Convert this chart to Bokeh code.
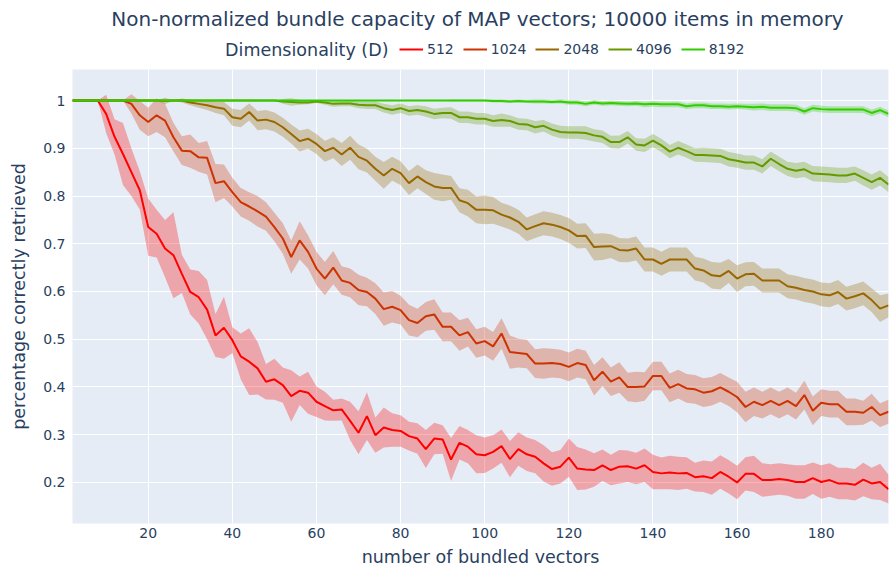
import numpy as np
from bokeh.plotting import figure
from bokeh.layouts import column
from bokeh.models import (ColumnDataSource, Range1d, FixedTicker, CustomJSTickFormatter,
                          Legend, LegendItem, Label)
from bokeh.embed import file_html
from bokeh.resources import INLINE

# ---------------- data ----------------
x_vals = list(range(2, 197, 2))  # number of bundled vectors (98 points)

dims = ["512", "1024", "2048", "4096", "8192"]
colors = ["#ff0000", "#cc3300", "#996600", "#669900", "#33cc00"]

mean_512 = [
    1, 1, 1, 1, 0.972, 0.924, 0.888, 0.850, 0.812, 0.735,
    0.721, 0.690, 0.676, 0.637, 0.599, 0.588, 0.562, 0.508, 0.524, 0.498,
    0.464, 0.453, 0.439, 0.411, 0.416, 0.404, 0.381, 0.392, 0.388, 0.369,
    0.360, 0.351, 0.353, 0.329, 0.304, 0.339, 0.299, 0.315, 0.310, 0.308,
    0.297, 0.292, 0.270, 0.292, 0.290, 0.248, 0.283, 0.275, 0.259, 0.257,
    0.264, 0.276, 0.249, 0.270, 0.259, 0.254, 0.240, 0.228, 0.233, 0.252,
    0.229, 0.227, 0.226, 0.236, 0.226, 0.233, 0.234, 0.229, 0.236, 0.222,
    0.219, 0.221, 0.219, 0.220, 0.211, 0.213, 0.209, 0.222, 0.212, 0.200,
    0.218, 0.218, 0.205, 0.205, 0.207, 0.205, 0.201, 0.201, 0.209, 0.201,
    0.205, 0.198, 0.198, 0.195, 0.206, 0.198, 0.201, 0.186,
]
hw_512 = [
    0, 0, 0, 0, 0.040, 0.037, 0.065, 0.050, 0.040, 0.060,
    0.050, 0.060, 0.090, 0.040, 0.047, 0.055, 0.062, 0.045, 0.065, 0.027,
    0.048, 0.070, 0.055, 0.037, 0.043, 0.037, 0.054, 0.030, 0.044, 0.032,
    0.030, 0.022, 0.023, 0.040, 0.045, 0.050, 0.037, 0.042, 0.035, 0.033,
    0.030, 0.032, 0.040, 0.033, 0.030, 0.045, 0.035, 0.035, 0.040, 0.037,
    0.035, 0.035, 0.038, 0.035, 0.035, 0.035, 0.038, 0.035, 0.035, 0.040,
    0.045, 0.042, 0.035, 0.033, 0.032, 0.035, 0.033, 0.033, 0.035, 0.036,
    0.033, 0.035, 0.035, 0.033, 0.030, 0.033, 0.035, 0.035, 0.035, 0.035,
    0.035, 0.038, 0.035, 0.033, 0.033, 0.033, 0.035, 0.035, 0.033, 0.035,
    0.035, 0.033, 0.033, 0.033, 0.035, 0.033, 0.038, 0.030,
]

mean_1024 = [
    1, 1, 1, 1, 1, 1, 1, 0.993, 0.969, 0.955,
    0.969, 0.958, 0.923, 0.895, 0.894, 0.881, 0.880, 0.827, 0.831, 0.808,
    0.787, 0.778, 0.768, 0.757, 0.735, 0.711, 0.672, 0.707, 0.683, 0.648,
    0.627, 0.650, 0.623, 0.618, 0.603, 0.599, 0.585, 0.563, 0.568, 0.561,
    0.540, 0.534, 0.548, 0.552, 0.526, 0.526, 0.508, 0.515, 0.491, 0.496,
    0.485, 0.512, 0.473, 0.471, 0.469, 0.449, 0.449, 0.450, 0.448, 0.442,
    0.450, 0.446, 0.414, 0.432, 0.411, 0.420, 0.400, 0.400, 0.401, 0.423,
    0.423, 0.398, 0.406, 0.397, 0.395, 0.388, 0.391, 0.399, 0.390, 0.379,
    0.358, 0.369, 0.362, 0.371, 0.362, 0.371, 0.360, 0.383, 0.350, 0.367,
    0.364, 0.364, 0.348, 0.348, 0.346, 0.358, 0.341, 0.348,
]
hw_1024 = [
    0, 0, 0, 0, 0, 0, 0, 0.020, 0.030, 0.030,
    0.035, 0.035, 0.030, 0.030, 0.035, 0.030, 0.035, 0.040, 0.035, 0.030,
    0.030, 0.030, 0.032, 0.030, 0.030, 0.032, 0.035, 0.040, 0.035, 0.035,
    0.035, 0.035, 0.030, 0.030, 0.032, 0.030, 0.032, 0.035, 0.033, 0.030,
    0.032, 0.030, 0.030, 0.032, 0.030, 0.030, 0.032, 0.030, 0.030, 0.030,
    0.030, 0.032, 0.035, 0.030, 0.030, 0.030, 0.032, 0.030, 0.030, 0.030,
    0.030, 0.030, 0.032, 0.030, 0.030, 0.032, 0.030, 0.032, 0.030, 0.030,
    0.030, 0.030, 0.030, 0.030, 0.030, 0.030, 0.030, 0.030, 0.030, 0.032,
    0.032, 0.030, 0.028, 0.028, 0.028, 0.028, 0.028, 0.030, 0.030, 0.028,
    0.028, 0.028, 0.028, 0.028, 0.025, 0.028, 0.025, 0.025,
]

mean_2048 = [
    1, 1, 1, 1, 1, 1, 1, 1, 1, 1,
    1, 0.999, 1, 1, 0.996, 0.993, 0.990, 0.986, 0.983, 0.965,
    0.962, 0.976, 0.958, 0.960, 0.955, 0.944, 0.930, 0.915, 0.920, 0.909,
    0.894, 0.901, 0.887, 0.901, 0.882, 0.874, 0.857, 0.843, 0.857, 0.848,
    0.827, 0.841, 0.829, 0.820, 0.817, 0.817, 0.791, 0.785, 0.771, 0.771,
    0.770, 0.761, 0.755, 0.746, 0.730, 0.737, 0.743, 0.740, 0.735, 0.728,
    0.716, 0.717, 0.693, 0.694, 0.695, 0.687, 0.686, 0.690, 0.667, 0.667,
    0.658, 0.667, 0.667, 0.667, 0.648, 0.644, 0.634, 0.632, 0.643, 0.627,
    0.636, 0.637, 0.623, 0.623, 0.623, 0.611, 0.608, 0.603, 0.600, 0.594,
    0.592, 0.599, 0.585, 0.590, 0.596, 0.582, 0.564, 0.571,
]
hw_2048 = [
    0, 0, 0, 0, 0, 0, 0, 0, 0, 0,
    0, 0.007, 0, 0.004, 0.006, 0.008, 0.010, 0.012, 0.014, 0.018,
    0.018, 0.018, 0.020, 0.020, 0.020, 0.020, 0.020, 0.022, 0.021, 0.021,
    0.022, 0.022, 0.024, 0.025, 0.026, 0.025, 0.025, 0.028, 0.025, 0.025,
    0.025, 0.025, 0.025, 0.028, 0.028, 0.025, 0.025, 0.028, 0.028, 0.030,
    0.028, 0.025, 0.025, 0.025, 0.025, 0.025, 0.025, 0.025, 0.025, 0.026,
    0.026, 0.026, 0.028, 0.028, 0.025, 0.025, 0.025, 0.025, 0.025, 0.025,
    0.025, 0.025, 0.025, 0.025, 0.025, 0.025, 0.028, 0.028, 0.025, 0.028,
    0.025, 0.025, 0.025, 0.025, 0.025, 0.025, 0.025, 0.025, 0.025, 0.025,
    0.025, 0.025, 0.025, 0.025, 0.025, 0.025, 0.028, 0.025,
]

mean_4096 = [
    1, 1, 1, 1, 1, 1, 1, 1, 1, 1,
    1, 1, 1, 1, 1, 1, 1, 1, 1, 1,
    1, 1, 1, 1, 1, 0.998, 0.997, 0.996, 0.996, 0.998,
    0.996, 0.993, 0.994, 0.994, 0.991, 0.990, 0.990, 0.984, 0.980, 0.984,
    0.978, 0.980, 0.977, 0.972, 0.974, 0.974, 0.965, 0.965, 0.962, 0.962,
    0.957, 0.959, 0.957, 0.951, 0.950, 0.944, 0.947, 0.939, 0.934, 0.933,
    0.933, 0.932, 0.927, 0.924, 0.913, 0.913, 0.923, 0.908, 0.906, 0.916,
    0.906, 0.893, 0.901, 0.894, 0.886, 0.886, 0.885, 0.884, 0.877, 0.874,
    0.870, 0.870, 0.862, 0.878, 0.867, 0.857, 0.853, 0.856, 0.847, 0.846,
    0.845, 0.843, 0.843, 0.847, 0.838, 0.829, 0.838, 0.824,
]
hw_4096 = [
    0, 0, 0, 0, 0, 0, 0, 0, 0, 0,
    0, 0, 0, 0, 0, 0, 0, 0, 0, 0,
    0, 0, 0, 0, 0, 0.005, 0.008, 0.005, 0.004, 0.003,
    0.005, 0.006, 0.006, 0.006, 0.007, 0.008, 0.008, 0.009, 0.010, 0.010,
    0.010, 0.010, 0.011, 0.011, 0.011, 0.012, 0.012, 0.012, 0.012, 0.012,
    0.012, 0.014, 0.012, 0.012, 0.012, 0.013, 0.012, 0.013, 0.013, 0.013,
    0.013, 0.014, 0.013, 0.013, 0.013, 0.014, 0.013, 0.013, 0.014, 0.014,
    0.014, 0.014, 0.014, 0.014, 0.014, 0.015, 0.015, 0.015, 0.015, 0.015,
    0.015, 0.015, 0.015, 0.015, 0.015, 0.015, 0.016, 0.016, 0.016, 0.016,
    0.016, 0.016, 0.016, 0.015, 0.016, 0.016, 0.016, 0.016,
]

mean_8192 = [
    1, 1, 1, 1, 1, 1, 1, 1, 1, 1,
    1, 1, 1, 1, 1, 1, 1, 1, 1, 1,
    1, 1, 1, 1, 1, 1, 1, 1, 1, 1,
    1, 1, 1, 1, 1, 1, 1, 1, 1, 1,
    1, 1, 1, 1, 1, 1, 1, 1, 1, 1,
    0.999, 0.999, 0.998, 0.999, 0.998, 0.998, 0.998, 0.997, 0.998, 0.996,
    0.996, 0.993, 0.996, 0.994, 0.995, 0.994, 0.993, 0.994, 0.992, 0.993,
    0.992, 0.992, 0.992, 0.988, 0.990, 0.990, 0.988, 0.988, 0.987, 0.988,
    0.987, 0.986, 0.987, 0.985, 0.985, 0.985, 0.984, 0.977, 0.984, 0.982,
    0.981, 0.981, 0.981, 0.981, 0.981, 0.974, 0.980, 0.972,
]
hw_8192 = [
    0, 0, 0, 0, 0, 0, 0, 0, 0, 0,
    0, 0, 0, 0, 0, 0, 0, 0, 0, 0,
    0, 0, 0, 0, 0, 0, 0, 0, 0, 0,
    0, 0, 0, 0, 0, 0, 0, 0, 0, 0,
    0, 0, 0, 0, 0, 0.002, 0.002, 0.002, 0.002, 0.002,
    0.003, 0.003, 0.003, 0.003, 0.003, 0.004, 0.004, 0.004, 0.004, 0.005,
    0.005, 0.005, 0.005, 0.005, 0.005, 0.005, 0.005, 0.005, 0.006, 0.006,
    0.006, 0.006, 0.006, 0.006, 0.006, 0.006, 0.006, 0.006, 0.006, 0.006,
    0.006, 0.007, 0.007, 0.007, 0.007, 0.007, 0.007, 0.007, 0.007, 0.007,
    0.007, 0.007, 0.007, 0.007, 0.007, 0.007, 0.007, 0.007,
]

means = [mean_512, mean_1024, mean_2048, mean_4096, mean_8192]
halfwidths = [hw_512, hw_1024, hw_2048, hw_4096, hw_8192]

x_ticks = [20, 40, 60, 80, 100, 120, 140, 160, 180]
y_ticks = [0.2, 0.3, 0.4, 0.5, 0.6, 0.7, 0.8, 0.9, 1.0]

title_text = "Non-normalized bundle capacity of MAP vectors; 10000 items in memory"
legend_title = "Dimensionality (D)"
x_title = "number of bundled vectors"
y_title = "percentage correctly retrieved"

FONT = "DejaVu Sans"
TXT = "#2a3f5f"
HEADER_H = 69
LEFT = 72   # left border (frame starts here in both figures)

# ---------------- header (title + legend) ----------------
head = figure(width=890, height=HEADER_H, output_backend="svg", toolbar_location=None,
              x_range=Range1d(0, 1), y_range=Range1d(0, 1),
              x_axis_type=None, y_axis_type=None,
              min_border_left=LEFT, min_border_right=2, min_border_top=0, min_border_bottom=0)
head.outline_line_color = None
head.background_fill_color = "white"
head.border_fill_color = "white"
head.grid.visible = False

# positions below are screen pixels relative to the header frame's bottom-left
head.add_layout(Label(x=477 - LEFT, y=HEADER_H - 18, x_units="screen", y_units="screen",
                      text=title_text, text_align="center", text_baseline="middle",
                      text_font=FONT, text_font_size="20px", text_color=TXT))
head.add_layout(Label(x=388 - LEFT, y=HEADER_H - 49, x_units="screen", y_units="screen",
                      text=legend_title, text_align="right", text_baseline="middle",
                      text_font=FONT, text_font_size="17.5px", text_color=TXT))

items = []
nan = float("nan")
for name, col in zip(dims, colors):
    # legend proxy: same style as the plotted line, with no visible point
    r = head.line(x=[nan], y=[nan], line_color=col, line_width=2)
    items.append(LegendItem(label=name, renderers=[r]))

legend = Legend(items=items, orientation="horizontal", location=(399 - LEFT, HEADER_H - 59),
                background_fill_alpha=0, border_line_alpha=0, padding=0, margin=0,
                spacing=9, glyph_width=24, glyph_height=16, label_standoff=4,
                label_text_font=FONT, label_text_font_size="14px",
                label_text_color=TXT, label_height=20)
head.add_layout(legend)

# ---------------- main plot ----------------
p = figure(width=890, height=569 - HEADER_H, output_backend="svg", toolbar_location=None,
           x_range=Range1d(2, 196), y_range=Range1d(0.114, 1.065),
           min_border_left=LEFT, min_border_right=2, min_border_top=0,
           min_border_bottom=46)
p.background_fill_color = "#E5ECF6"
p.border_fill_color = "white"
p.outline_line_color = None

for ax in (p.xaxis[0], p.yaxis[0]):
    ax.axis_line_color = None
    ax.major_tick_line_color = None
    ax.minor_tick_line_color = None
    ax.major_tick_out = 0
    ax.major_label_text_font = FONT
    ax.major_label_text_font_size = "14px"
    ax.major_label_text_color = TXT
    ax.axis_label_text_font = FONT
    ax.axis_label_text_font_size = "17.5px"
    ax.axis_label_text_font_style = "normal"
    ax.axis_label_text_color = TXT

p.xaxis.ticker = FixedTicker(ticks=x_ticks)
p.yaxis.ticker = FixedTicker(ticks=y_ticks)
p.yaxis.formatter = CustomJSTickFormatter(code="return Number(tick.toFixed(1)).toString();")
p.xaxis.axis_label = x_title
p.yaxis.axis_label = y_title
p.xaxis.major_label_standoff = 4
p.xaxis.axis_label_standoff = 6
p.yaxis.major_label_standoff = 7
p.yaxis.axis_label_standoff = 11

p.xgrid.ticker = FixedTicker(ticks=x_ticks)
p.ygrid.ticker = FixedTicker(ticks=y_ticks)
for g in (p.xgrid[0], p.ygrid[0]):
    g.grid_line_color = "white"
    g.grid_line_width = 1

xs = np.array(x_vals, dtype=float)
for name, col, m, hw in zip(dims, colors, means, halfwidths):
    m = np.array(m, dtype=float)
    hw = np.array(hw, dtype=float)
    src = ColumnDataSource(dict(x=xs, mean=m, lo=m - hw, hi=m + hw))
    p.varea(x="x", y1="lo", y2="hi", source=src, fill_color=col, fill_alpha=0.3)
    p.line(x="x", y="mean", source=src, line_color=col, line_width=2)

layout = column(head, p, spacing=0)
open("out.html", "w").write(file_html(layout, INLINE))
